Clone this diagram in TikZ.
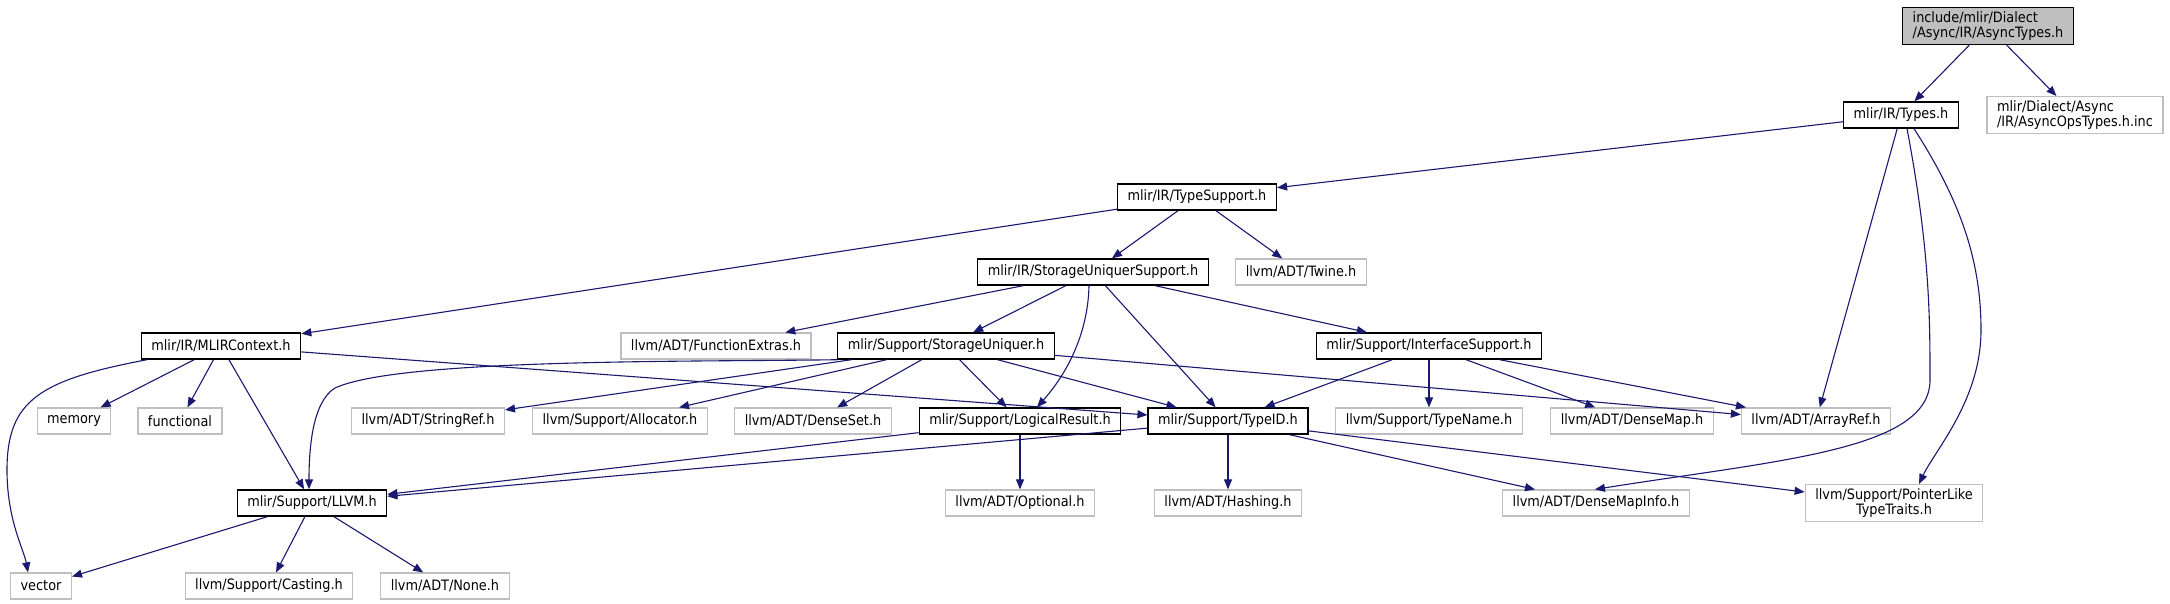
\documentclass[tikz,border=0pt]{standalone}
\usepackage{fontspec}
\setmainfont{DejaVu Sans Condensed}
\usetikzlibrary{arrows.meta}
\definecolor{edgeblue}{RGB}{25,25,112}
\definecolor{boxgray}{RGB}{191,191,191}

\begin{document}
\begin{tikzpicture}[x=1pt,y=-1pt,
  file/.style={draw=black,line width=1.4pt,fill=white,inner xsep=10pt,inner ysep=4pt,minimum height=26pt,font=\fontsize{14.3}{15}\selectfont},
  extfile/.style={file,draw=boxgray,line width=1.2pt},
  inc/.style={draw=edgeblue,line width=1.1pt,-{Triangle[length=10pt,width=8pt]}}]
\useasboundingbox (0,0) rectangle (2170,604);

% top rows
\node[file,fill=boxgray,align=left] (async) at (1988,26) {include/mlir/Dialect\\/Async/IR/AsyncTypes.h};
\node[file] (types) at (1901,115) {mlir/IR/Types.h};
\node[extfile,align=left] (opsinc) at (2075,115) {mlir/Dialect/Async\\/IR/AsyncOpsTypes.h.inc};
\node[file] (typesupport) at (1197,197) {mlir/IR/TypeSupport.h};
\node[file] (susupport) at (1093,272) {mlir/IR/StorageUniquerSupport.h};
\node[extfile] (twine) at (1301,272) {llvm/ADT/Twine.h};

\node[file] (mlircontext) at (221,346) {mlir/IR/MLIRContext.h};
\node[extfile] (funcextras) at (716,346) {llvm/ADT/FunctionExtras.h};
\node[file] (storageuniquer) at (946,346) {mlir/Support/StorageUniquer.h};
\node[file] (interfacesupport) at (1429,346) {mlir/Support/InterfaceSupport.h};

\node[extfile] (memory) at (74,421) {memory};
\node[extfile] (functional) at (180,421) {functional};
\node[extfile] (stringref) at (428,421) {llvm/ADT/StringRef.h};
\node[extfile] (allocator) at (620,421) {llvm/Support/Allocator.h};
\node[extfile] (denseset) at (813,421) {llvm/ADT/DenseSet.h};
\node[file] (logicalresult) at (1020,421) {mlir/Support/LogicalResult.h};
\node[file] (typeid) at (1228,421) {mlir/Support/TypeID.h};
\node[extfile] (typename) at (1429,421) {llvm/Support/TypeName.h};
\node[extfile] (densemap) at (1632,421) {llvm/ADT/DenseMap.h};
\node[extfile] (arrayref) at (1816,421) {llvm/ADT/ArrayRef.h};

\node[file] (llvm) at (312,503) {mlir/Support/LLVM.h};
\node[extfile] (optional) at (1020,503) {llvm/ADT/Optional.h};
\node[extfile] (hashing) at (1228,503) {llvm/ADT/Hashing.h};
\node[extfile] (densemapinfo) at (1596,503) {llvm/ADT/DenseMapInfo.h};
\node[extfile,align=center] (pointerlike) at (1894,503) {llvm/Support/PointerLike\\TypeTraits.h};

\node[extfile] (vector) at (41,586) {vector};
\node[extfile] (casting) at (269,586) {llvm/Support/Casting.h};
\node[extfile] (none) at (445,586) {llvm/ADT/None.h};

% includes
\draw[inc] (async) -- (types);
\draw[inc] (async) -- (opsinc);
\draw[inc] (types) -- (typesupport);
\draw[inc] (types) -- (arrayref);
\draw[inc] ([xshift=6pt]types.south) .. controls (1930,250) and (1930,320) .. (1930,380)
  .. controls (1930,450) and (1780,460) .. ([xshift=-95pt]densemapinfo.north east);
\draw[inc] ([xshift=13pt]types.south) .. controls (1960,200) and (1981,260) .. (1981,330)
  .. controls (1981,400) and (1935,450) .. ([xshift=25pt]pointerlike.north);

\draw[inc] (typesupport) -- (mlircontext);
\draw[inc] (typesupport) -- (susupport);
\draw[inc] (typesupport) -- (twine);

\draw[inc] (susupport) -- (funcextras);
\draw[inc] (susupport) -- (storageuniquer);
\draw[inc] ([xshift=-4pt]susupport.south) .. controls (1088,330) and (1070,370) .. ([xshift=17pt]logicalresult.north);
\draw[inc] (susupport) -- (typeid);
\draw[inc] (susupport) -- (interfacesupport);

\draw[inc] ([xshift=-74pt]mlircontext.south) .. controls (40,380) and (7,400) .. (7,470)
  .. controls (7,520) and (24,550) .. ([xshift=-13pt]vector.north);
\draw[inc] (mlircontext) -- (memory);
\draw[inc] (mlircontext) -- (functional);
\draw[inc] (mlircontext) -- (llvm);
\draw[inc] (mlircontext) -- (typeid);

\draw[inc] (storageuniquer.south west) .. controls (700,362) and (400,358) .. (335,388)
  .. controls (312,402) and (309,450) .. ([xshift=-3pt]llvm.north);
\draw[inc] (storageuniquer) -- (stringref);
\draw[inc] (storageuniquer) -- (allocator);
\draw[inc] (storageuniquer) -- (denseset);
\draw[inc] (storageuniquer) -- (logicalresult);
\draw[inc] (storageuniquer) -- (typeid);
\draw[inc] (storageuniquer) -- (arrayref);

\draw[inc] (interfacesupport) -- (typeid);
\draw[inc] (interfacesupport) -- (typename);
\draw[inc] (interfacesupport) -- (densemap);
\draw[inc] (interfacesupport) -- (arrayref);

\draw[inc] (logicalresult) -- (llvm);
\draw[inc] (logicalresult) -- (optional);

\draw[inc] (typeid) -- (llvm);
\draw[inc] (typeid) -- (hashing);
\draw[inc] (typeid) -- (densemapinfo);
\draw[inc] (typeid) -- (pointerlike);

\draw[inc] (llvm) -- (vector);
\draw[inc] (llvm) -- (casting);
\draw[inc] (llvm) -- (none);
\end{tikzpicture}
\end{document}
